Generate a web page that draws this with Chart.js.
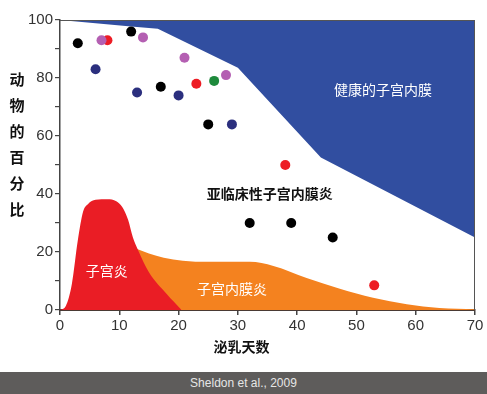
<!DOCTYPE html>
<html>
<head>
<meta charset="utf-8">
<script src="https://cdn.jsdelivr.net/npm/chart.js@4.4.0/dist/chart.umd.min.js"></script>
<style>
  body { margin: 0; background: #fff; }
  #wrap { width: 487px; height: 372px; position: relative; }
  #footer { width: 487px; height: 22px; background: #5e5c5b; color: #e6e6e6;
    font: 12px "Liberation Sans", sans-serif; text-align: center; line-height: 22px; }
</style>
</head>
<body>
<div id="wrap"><canvas id="chart"></canvas></div>
<div id="footer">Sheldon et al., 2009</div>
<script>
// lower edge of the "healthy" band (filled up to 100)
const healthyX = [0, 12, 16.5, 30, 44, 70];
const healthyY = [100, 97.8, 97, 83.5, 52.6, 25];

// metritis (red) area
const metritisX = [0, 1, 2, 3, 3.9, 4.7, 6, 8, 9.5, 10.5, 11.5, 12.3, 13.2, 15, 18, 20.5];
const metritisY = [0, 1.5, 9, 24, 34, 36.5, 38, 38.2, 37.5, 35.5, 31, 25, 20.5, 13, 5.5, 0];

// endometritis (orange) area
const endoX = [13, 15, 17.5, 20.7, 25, 32, 36, 41.6, 47.2, 52.8, 58.5, 64, 70];
const endoY = [21, 19.5, 18, 17, 16.6, 16.6, 15.2, 11, 7.3, 4.2, 2, 0.7, 0.3];

// individual studies, grouped by dot colour
const blackX = [3, 12, 17, 25, 32, 39, 46];
const blackY = [92, 96, 77, 64, 30, 30, 25];
const navyX = [6, 13, 20, 29];
const navyY = [83, 75, 74, 64];
const purpleX = [7, 14, 21, 28];
const purpleY = [93, 94, 87, 81];
const redX = [8, 23, 38, 53];
const redY = [93, 78, 50, 8.5];
const greenX = [26];
const greenY = [79];

const xTicks = [0, 10, 20, 30, 40, 50, 60, 70];
const yTicks = [0, 20, 40, 60, 80, 100];

const regionText = ['健康的子宫内膜', '亚临床性子宫内膜炎', '子宫炎', '子宫内膜炎'];
const regionAtX = [54.5, 35.4, 7.9, 29];
const regionAtY = [75.8, 40.1, 13.5, 7.3];

const yTitle = '动物的百分比';
const xTitle = '泌乳天数';

const pts = (xs, ys) => xs.map((x, i) => ({ x: x, y: ys[i] }));
const cjk = '"Noto Sans CJK SC", sans-serif';

function dots(xs, ys, color) {
  return { type: 'scatter', data: pts(xs, ys), backgroundColor: color, borderWidth: 0,
    pointRadius: 5, pointHoverRadius: 5, order: 0 };
}

const decor = {
  id: 'decor',
  afterDatasetsDraw(chart) {
    const ctx = chart.ctx, a = chart.chartArea;
    const xs = chart.scales.x, ys = chart.scales.y;
    ctx.save();
    // top and right frame
    ctx.strokeStyle = '#555';
    ctx.lineWidth = 1;
    ctx.beginPath();
    ctx.moveTo(a.left, a.top + 0.5);
    ctx.lineTo(a.right - 0.5, a.top + 0.5);
    ctx.lineTo(a.right - 0.5, a.bottom);
    ctx.stroke();
    // region labels
    ctx.textAlign = 'center';
    ctx.textBaseline = 'middle';
    regionText.forEach((t, i) => {
      ctx.fillStyle = i === 1 ? '#111' : '#fff';
      ctx.font = (i === 1 ? 'bold ' : '') + '14px ' + cjk;
      ctx.fillText(t, xs.getPixelForValue(regionAtX[i]), ys.getPixelForValue(regionAtY[i]));
    });
    // y title, stacked characters
    ctx.fillStyle = '#111';
    ctx.font = 'bold 15px ' + cjk;
    [...yTitle].forEach((c, i) => ctx.fillText(c, 17, 79 + i * 26));
    // x title
    ctx.font = 'bold 14px ' + cjk;
    ctx.fillText(xTitle, (a.left + a.right) / 2 - 26, 347);
    ctx.restore();
  }
};

new Chart(document.getElementById('chart'), {
  type: 'line',
  data: {
    datasets: [
      dots(blackX, blackY, '#000'),
      dots(navyX, navyY, '#2b2f7e'),
      dots(purpleX, purpleY, '#b45fb2'),
      dots(redX, redY, '#ed1c24'),
      dots(greenX, greenY, '#1e8a3c'),
      { data: pts(metritisX, metritisY), borderWidth: 0, pointRadius: 0, fill: 'origin',
        backgroundColor: '#ea1d25', cubicInterpolationMode: 'monotone', order: 1 },
      { data: pts(endoX, endoY), borderWidth: 0, pointRadius: 0, fill: 'origin',
        backgroundColor: '#f4821f', cubicInterpolationMode: 'monotone', order: 2 },
      { data: pts(healthyX, healthyY), borderWidth: 0, pointRadius: 0, fill: 'end',
        backgroundColor: '#314ea0', tension: 0, order: 3 }
    ]
  },
  options: {
    responsive: true,
    maintainAspectRatio: false,
    animation: false,
    layout: { padding: { top: 20, right: 12, left: 0, bottom: 0 } },
    plugins: { legend: { display: false }, tooltip: { enabled: false } },
    scales: {
      x: {
        type: 'linear', min: 0, max: 70,
        afterBuildTicks: s => { s.ticks = xTicks.map(v => ({ value: v })); },
        afterFit: s => { s.height = 62; },
        grid: { drawOnChartArea: false, tickLength: 5, color: '#444', lineWidth: 1.5 },
        border: { color: '#4a3a34', width: 2 },
        ticks: { color: '#333', padding: 2, font: { family: '"Liberation Sans", Arial', size: 15 } }
      },
      y: {
        min: 0, max: 100,
        ticks: { stepSize: 10, color: '#333', padding: 2,
          font: { family: '"Liberation Sans", Arial', size: 15 },
          callback: v => yTicks.includes(v) ? v : '' },
        afterFit: s => { s.width = 60; },
        grid: { drawOnChartArea: false, tickLength: 5, color: '#444', lineWidth: 1.2 },
        border: { color: '#444', width: 1.5 }
      }
    }
  },
  plugins: [decor]
});
</script>
</body>
</html>
